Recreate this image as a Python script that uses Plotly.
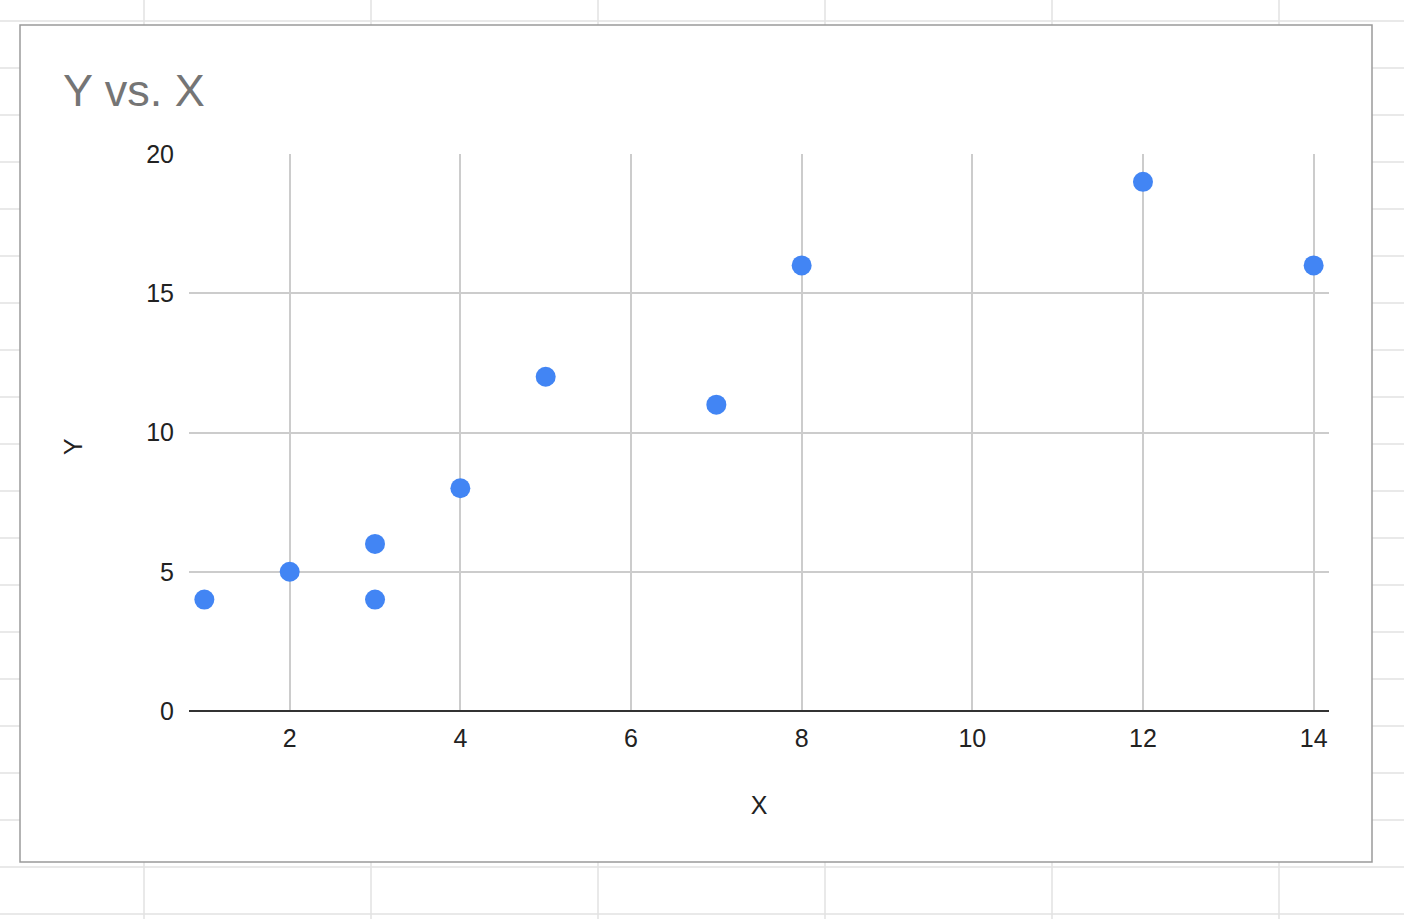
import plotly.graph_objects as go

# Data
x_vals = [1, 2, 3, 3, 4, 5, 7, 8, 12, 14]
y_vals = [4, 5, 6, 4, 8, 12, 11, 16, 19, 16]
x_ticks = [2, 4, 6, 8, 10, 12, 14]
y_ticks = [0, 5, 10, 15, 20]

W, H = 1404, 919
L, R, T, B = 189, 75, 154, 208
PW, PH = W - L - R, H - T - B

def px(x):
    return (x - L) / PW

def py(y):
    return (H - B - y) / PH

FONT = "Arial, 'Liberation Sans', sans-serif"

fig = go.Figure()
fig.add_trace(go.Scatter(
    x=x_vals, y=y_vals, mode="markers",
    marker=dict(size=20, color="#4285F4", line=dict(width=0)),
    showlegend=False, hoverinfo="x+y",
))

shapes = []
# spreadsheet background grid
for cx in [144, 371, 598, 825, 1052, 1279]:
    shapes.append(dict(type="line", xref="paper", yref="paper",
                       x0=px(cx), x1=px(cx), y0=py(0), y1=py(H),
                       line=dict(color="#e2e2e2", width=1.5), layer="below"))
for k in range(20):
    ry = 21 + 47 * k
    shapes.append(dict(type="line", xref="paper", yref="paper",
                       x0=px(0), x1=px(W), y0=py(ry), y1=py(ry),
                       line=dict(color="#e2e2e2", width=1.5), layer="below"))
# chart box
shapes.append(dict(type="rect", xref="paper", yref="paper",
                   x0=px(20), x1=px(1372), y0=py(25), y1=py(862),
                   fillcolor="white", line=dict(color="#9a9a9a", width=1.5),
                   layer="below"))

fig.update_layout(
    width=W, height=H,
    margin=dict(l=L, r=R, t=T, b=B, pad=0),
    paper_bgcolor="white",
    plot_bgcolor="rgba(0,0,0,0)",
    shapes=shapes,
    font=dict(family=FONT, color="#222222", size=25),
    title=dict(text="Y vs. X", xref="container", yref="container",
               x=63 / W, xanchor="left", y=1 - 90 / H, yanchor="middle",
               font=dict(family=FONT, size=45, color="#757575")),
    xaxis=dict(range=[0.82, 14.18], tickvals=x_ticks, showgrid=True,
               gridcolor="#cccccc", gridwidth=1.5, zeroline=False,
               showline=False, ticks="", ticklabelstandoff=10,
               tickfont=dict(size=25, color="#222222"),
               title=dict(text="X", font=dict(size=25, color="#222222"), standoff=45)),
    yaxis=dict(range=[0, 20], tickvals=y_ticks, showgrid=True,
               gridcolor="#cccccc", gridwidth=1.5, zeroline=True,
               zerolinecolor="#333333", zerolinewidth=2,
               showline=False, ticks="", ticklabelstandoff=14,
               tickfont=dict(size=25, color="#222222")),
    annotations=[dict(text="Y", xref="paper", yref="paper",
                      x=px(73), y=py(447), xanchor="center", yanchor="middle",
                      textangle=-90, showarrow=False,
                      font=dict(family=FONT, size=25, color="#222222"))],
)

fig.write_html("out.html")
